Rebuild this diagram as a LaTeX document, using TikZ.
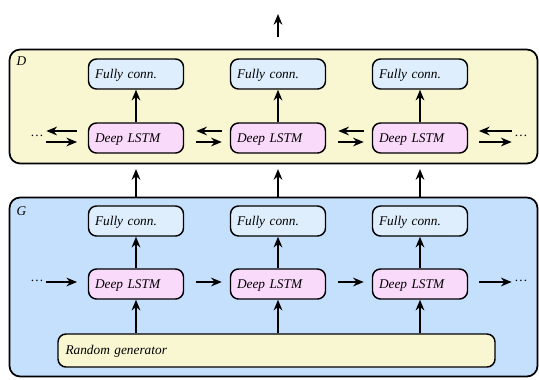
\documentclass[tikz,border=0pt]{standalone}
\usepackage{fontspec}
\setmainfont{Liberation Serif}
\usetikzlibrary{arrows.meta, positioning, calc}
\definecolor{netyellow}{RGB}{248,247,210}
\definecolor{netblue}{RGB}{197,224,252}
\definecolor{fcblue}{RGB}{223,238,252}
\definecolor{lstmpink}{RGB}{250,218,250}

\tikzset{
    frame/.style={draw, line width=1.3pt, rounded corners=8pt},
    unit/.style={draw, line width=1.1pt, rounded corners=6pt, minimum width=95*0.75pt,
        minimum height=30*0.75pt, font=\itshape, text height=7.5pt, text depth=1pt,
        align=left, anchor=center},
    fcbox/.style={unit, fill=fcblue, text width=82*0.75pt},
    lstmbox/.style={unit, fill=lstmpink, text width=82*0.75pt},
    flow/.style={-{Stealth[length=8pt,width=6.5pt]}, line width=1.6pt},
    dots/.style={font=\normalsize}
}

\begin{document}
\begin{tikzpicture}[x=0.75pt,y=-0.75pt]
    \useasboundingbox (0,0) rectangle (539,379);

    % Discriminator
    \node[frame, fill=netyellow, minimum width=528*0.75pt, minimum height=114*0.75pt] (dbox) at (273.5,106.5) {};
    \node[font=\itshape, anchor=north west] (dlab) at (12,52) {D};

    % Generator
    \node[frame, fill=netblue, minimum width=528*0.75pt, minimum height=179*0.75pt] (gbox) at (273.5,287) {};
    \node[font=\itshape, anchor=north west] (glab) at (12,202) {G};

    \node[unit, fill=netyellow, minimum width=437*0.75pt, minimum height=33*0.75pt,
        text width=422*0.75pt] (rand) at (276.5,350.5) {Random generator};

    % Columns
    \foreach \i/\x in {1/136, 2/278, 3/420} {
        \node[fcbox] (dfc\i) at (\x,74) {Fully conn.};
        \node[lstmbox] (dl\i) at (\x,138) {Deep LSTM};
        \node[fcbox] (gfc\i) at (\x,221) {Fully conn.};
        \node[lstmbox] (gl\i) at (\x,284) {Deep LSTM};
        \draw[flow] (dl\i) -- (dfc\i);
        \draw[flow] (gl\i) -- (gfc\i);
        \draw[flow] (rand.north -| gl\i) -- (gl\i);
        \draw[flow, shorten >=3.5pt] (gbox.north -| gl\i) -- (dbox.south -| dl\i);
    }

    % Output
    \coordinate (out) at (278,14);
    \draw[flow, shorten <=9pt] (dbox.north -| out) -- (out);

    % Dots at the ends
    \node[dots] (dleft) at (37,136) {\dots};
    \node[dots] (dright) at (521,136) {\dots};
    \node[dots] (gleft) at (37,281) {\dots};
    \node[dots] (gright) at (521,281) {\dots};

    % Recurrent links
    \draw[flow, shorten <=7pt, shorten >=8pt] (dleft.center |- 0,142) -- (dl1.west |- 0,142);
    \draw[flow, shorten <=8pt, shorten >=7pt] (dl1.west |- 0,131) -- (dleft.center |- 0,131);
    \draw[flow, shorten <=8pt, shorten >=7pt] (dl3.east |- 0,142) -- (dright.center |- 0,142);
    \draw[flow, shorten <=7pt, shorten >=8pt] (dright.center |- 0,131) -- (dl3.east |- 0,131);
    \draw[flow, shorten <=7pt, shorten >=8pt] (gleft.center |- 0,282) -- (gl1.west |- 0,282);
    \draw[flow, shorten <=8pt, shorten >=7pt] (gl3.east |- 0,282) -- (gright.center |- 0,282);
    \foreach \a/\b in {1/2, 2/3} {
        \draw[flow, shorten <=9pt, shorten >=6pt] (dl\a.east |- 0,142) -- (dl\b.west |- 0,142);
        \draw[flow, shorten <=6pt, shorten >=9pt] (dl\b.west |- 0,131) -- (dl\a.east |- 0,131);
        \draw[flow, shorten <=9pt, shorten >=6pt] (gl\a.east |- 0,282) -- (gl\b.west |- 0,282);
    }
\end{tikzpicture}
\end{document}
